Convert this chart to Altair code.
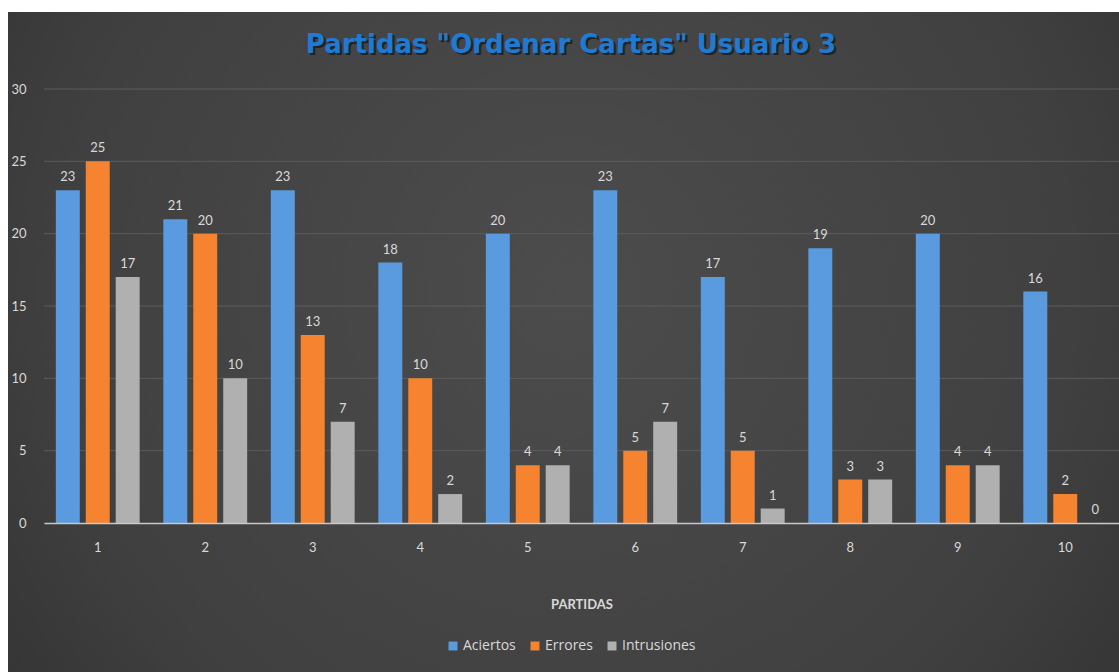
import altair as alt
import pandas as pd

# Values per game ("partida") for user 3
partidas = [1, 2, 3, 4, 5, 6, 7, 8, 9, 10]
aciertos = [23, 21, 23, 18, 20, 23, 17, 19, 20, 16]
errores = [25, 20, 13, 10, 4, 5, 5, 3, 4, 2]
intrusiones = [17, 10, 7, 2, 4, 7, 1, 3, 4, 0]
y_ticks = [0, 5, 10, 15, 20, 25, 30]

series = ["Aciertos", "Errores", "Intrusiones"]
colores = ["#5a9be0", "#f5832f", "#b0b0b0"]
titulo = 'Partidas "Ordenar Cartas" Usuario 3'

rows = []
for i, p in enumerate(partidas):
    for name, vals in zip(series, [aciertos, errores, intrusiones]):
        rows.append({"Partida": str(p), "Serie": name, "Valor": vals[i]})
df = pd.DataFrame(rows)

W, H = 1075, 434
PAD_L, PAD_T, PAD_B = 44, 89, 149
LABEL = "#d9d9d9"
FONT = "Lato"
orden = [str(p) for p in partidas]

# Dark radial-gradient panel behind the whole chart
panel = alt.Chart(pd.DataFrame({"k": [0]})).mark_rect(
    color={
        "gradient": "radial",
        "x1": 0.5, "y1": 0.45, "r1": 0.0,
        "x2": 0.5, "y2": 0.45, "r2": 0.75,
        "stops": [
            {"offset": 0.0, "color": "#4c4c4c"},
            {"offset": 0.6, "color": "#404040"},
            {"offset": 1.0, "color": "#2c2c2c"},
        ],
    }
).encode(
    x=alt.value(8 - PAD_L),
    x2=alt.value(W + 10),
    y=alt.value(12 - PAD_T),
    y2=alt.value(H + PAD_B + 5),
)

y_scale = alt.Scale(domain=[0, 30], nice=False)
y_axis = alt.Axis(
    title=None,
    values=y_ticks,
    domain=False,
    ticks=False,
    grid=False,
    labelColor=LABEL,
    labelFontSize=13,
    labelFont=FONT,
    labelPadding=18,
    zindex=1,
)

# Horizontal gridlines (drawn above the panel, below the bars)
grid = alt.Chart(pd.DataFrame({"v": y_ticks[1:]})).mark_rule(
    color="#5c5c5c", strokeWidth=1
).encode(
    y=alt.Y("v:Q", scale=y_scale, axis=y_axis, title=None),
    x=alt.value(0),
    x2=alt.value(W),
)

# Chart title with a soft dark shadow
title_df = pd.DataFrame({"t": [titulo]})
title_shadow = alt.Chart(title_df).mark_text(
    font="DejaVu Sans", fontSize=26, fontWeight="bold", color="#151515",
    opacity=0.7, align="center", baseline="middle",
).encode(x=alt.value(529), y=alt.value(-42), text="t:N")
title_text = alt.Chart(title_df).mark_text(
    font="DejaVu Sans", fontSize=26, fontWeight="bold", color="#1f7ad3",
    align="center", baseline="middle",
).encode(x=alt.value(527), y=alt.value(-44), text="t:N")

x_enc = alt.X(
    "Partida:N",
    sort=orden,
    scale=alt.Scale(paddingInner=0.22, paddingOuter=0.11),
    axis=alt.Axis(
        title="PARTIDAS",
        labelAngle=0,
        labelColor=LABEL,
        labelFontSize=13,
        labelFont=FONT,
        labelPadding=18,
        ticks=False,
        domainColor="#c8c8c8",
        domainWidth=1.5,
        titleColor=LABEL,
        titleFont=FONT,
        titleFontSize=13,
        titleFontWeight="bold",
        titlePadding=44,
        zindex=1,
    ),
)
xoff = alt.XOffset("Serie:N", sort=series, scale=alt.Scale(paddingInner=0.2))

bars = alt.Chart(df).mark_bar().encode(
    x=x_enc,
    xOffset=xoff,
    y=alt.Y("Valor:Q", scale=y_scale, axis=y_axis, title=None),
    color=alt.Color(
        "Serie:N",
        sort=series,
        scale=alt.Scale(domain=series, range=colores),
        legend=alt.Legend(
            title=None,
            orient="none",
            direction="horizontal",
            legendX=402,
            legendY=550,
            symbolType="square",
            symbolSize=80,
            symbolStrokeWidth=0,
            labelColor=LABEL,
            labelFont="Open Sans",
            labelFontSize=14,
            columnPadding=12,
            labelOffset=3,
            zindex=1,
        ),
    ),
)

labels = alt.Chart(df).mark_text(
    baseline="bottom", dy=-6, fontSize=13, font=FONT, color=LABEL
).encode(
    x=alt.X("Partida:N", sort=orden),
    xOffset=alt.XOffset("Serie:N", sort=series),
    y=alt.Y("Valor:Q", scale=y_scale, axis=y_axis, title=None),
    text="Valor:Q",
)

chart = alt.layer(panel, grid, title_shadow, title_text, bars, labels).properties(
    width=W,
    height=H,
    padding={"left": PAD_L, "top": PAD_T, "right": 0, "bottom": PAD_B},
    autosize=alt.AutoSizeParams(type="none"),
    background="#ffffff",
).configure_view(stroke=None)

chart.save("out.html", embed_options={"renderer": "svg", "actions": False})
